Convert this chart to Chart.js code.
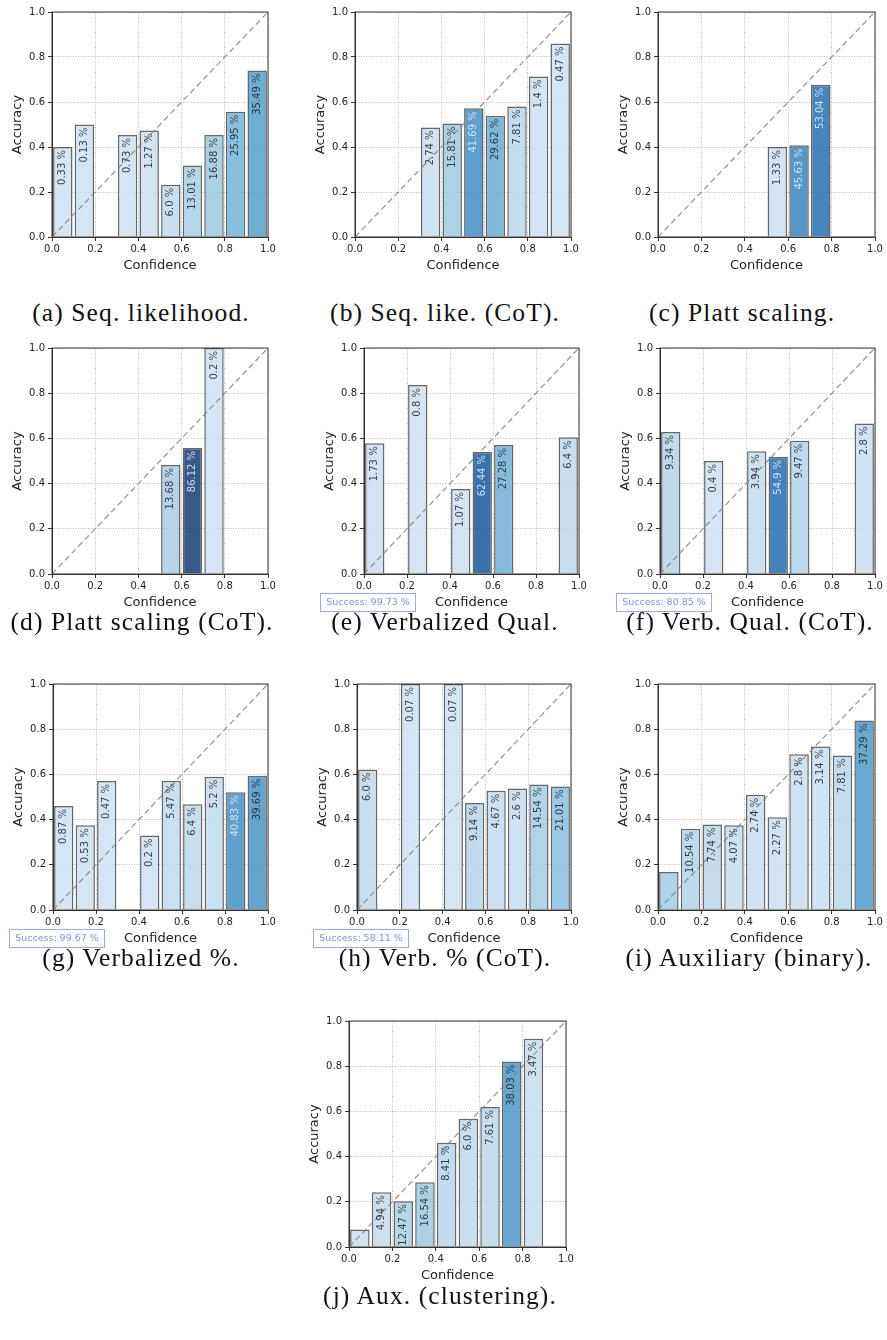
<!DOCTYPE html>
<html>
<head>
<meta charset="utf-8">
<script src="https://cdn.jsdelivr.net/npm/chart.js@4.4.1/dist/chart.umd.min.js"></script>
<style>
  html, body { margin: 0; padding: 0; background: #fff; width: 887px; height: 1340px; overflow: hidden; position: relative; }
  canvas { position: absolute; }
  .cap { position: absolute; font-family: 'Liberation Serif', serif; font-size: 25.5px; line-height: 28px;
         color: #111; white-space: nowrap; transform: translateX(-50%); letter-spacing: 1.1px; }
</style>
</head>
<body>
<script>
// bin centres shared by every panel (10 bins of width 0.1)
const binCenters = [0.05, 0.15, 0.25, 0.35, 0.45, 0.55, 0.65, 0.75, 0.85, 0.95];
const axisTicks = [0, 0.2, 0.4, 0.6, 0.8, 1.0];
const diagonal = [0, 1];

// accuracy per bin (null = empty bin) and share of samples per bin in %
const accSeqLik      = [0.40, 0.50, null, 0.453, 0.473, 0.232, 0.318, 0.453, 0.557, 0.740];
const pctSeqLik      = [0.33, 0.13, null, 0.73, 1.27, 6.0, 13.01, 16.88, 25.95, 35.49];
const accSeqLikCot   = [null, null, null, 0.487, 0.505, 0.572, 0.539, 0.580, 0.713, 0.860];
const pctSeqLikCot   = [null, null, null, 2.74, 15.81, 41.69, 29.62, 7.81, 1.4, 0.47];
const accPlatt       = [null, null, null, null, null, 0.400, 0.408, 0.677, null, null];
const pctPlatt       = [null, null, null, null, null, 1.33, 45.63, 53.04, null, null];
const accPlattCot    = [null, null, null, null, null, 0.482, 0.558, 1.0, null, null];
const pctPlattCot    = [null, null, null, null, null, 13.68, 86.12, 0.2, null, null];
const accVerbQual    = [0.578, null, 0.836, null, 0.376, 0.540, 0.571, null, null, 0.605];
const pctVerbQual    = [1.73, null, 0.8, null, 1.07, 62.44, 27.28, null, null, 6.4];
const accVerbQualCot = [0.628, null, 0.500, null, 0.543, 0.519, 0.590, null, null, 0.666];
const pctVerbQualCot = [9.34, null, 0.4, null, 3.94, 54.9, 9.47, null, null, 2.8];
const accVerbPct     = [0.460, 0.375, 0.571, null, 0.330, 0.572, 0.468, 0.590, 0.521, 0.594];
const pctVerbPct     = [0.87, 0.53, 0.47, null, 0.2, 5.47, 6.4, 5.2, 40.83, 39.69];
const accVerbPctCot  = [0.622, null, 1.0, null, 1.0, 0.473, 0.528, 0.538, 0.555, 0.546];
const pctVerbPctCot  = [6.0, null, 0.07, null, 0.07, 9.14, 4.67, 2.6, 14.54, 21.01];
const accAuxBinary   = [0.168, 0.360, 0.378, 0.375, 0.510, 0.410, 0.689, 0.723, 0.684, 0.838];
const pctAuxBinary   = [15.0, 10.54, 7.74, 4.07, 2.74, 2.27, 2.8, 3.14, 7.81, 37.29];
const accAuxCluster  = [0.077, 0.242, 0.202, 0.287, 0.461, 0.567, 0.620, 0.821, 0.922, null];
const pctAuxCluster  = [2.53, 4.94, 12.47, 16.54, 8.41, 6.0, 7.61, 38.03, 3.47, null];

const captions = ['(a) Seq. likelihood.', '(b) Seq. like. (CoT).', '(c) Platt scaling.',
  '(d) Platt scaling (CoT).', '(e) Verbalized Qual.', '(f) Verb. Qual. (CoT).',
  '(g) Verbalized %.', '(h) Verb. % (CoT).', '(i) Auxiliary (binary).', '(j) Aux. (clustering).'];
const successRates = [null, null, null, null, 99.73, 80.85, 99.67, 58.11, null, null];

// plot area of each panel in page pixels: left, top, right, bottom
const panels = [
  { acc: accSeqLik,      pct: pctSeqLik,      box: [52, 12, 268, 237] },
  { acc: accSeqLikCot,   pct: pctSeqLikCot,   box: [355, 12, 571, 237] },
  { acc: accPlatt,       pct: pctPlatt,       box: [658, 12, 875, 237] },
  { acc: accPlattCot,    pct: pctPlattCot,    box: [52, 348, 268, 574] },
  { acc: accVerbQual,    pct: pctVerbQual,    box: [364, 348, 579, 574] },
  { acc: accVerbQualCot, pct: pctVerbQualCot, box: [660, 348, 875, 574] },
  { acc: accVerbPct,     pct: pctVerbPct,     box: [53, 684, 268, 910] },
  { acc: accVerbPctCot,  pct: pctVerbPctCot,  box: [357, 684, 571, 910] },
  { acc: accAuxBinary,   pct: pctAuxBinary,   box: [658, 684, 875, 910] },
  { acc: accAuxCluster,  pct: pctAuxCluster,  box: [349, 1021, 566, 1247] }
];
const capPos = [[141, 313], [445, 313], [742, 313], [142, 622], [445, 622], [750, 622],
  [141, 958], [445, 958], [749, 958], [440, 1296]];

const ML = 60, MT = 12, MR = 10, MB = 46;

// matplotlib "Blues"
const bluesStops = [[247,251,255],[222,235,247],[198,219,239],[158,202,225],[107,174,214],
  [66,146,198],[33,113,181],[8,81,156],[8,48,107]];
function blues(t) {
  t = Math.max(0, Math.min(1, t)) * 8;
  const i = Math.min(7, Math.floor(t)), f = t - i;
  const a = bluesStops[i], b = bluesStops[i + 1];
  return a.map((v, k) => v + (b[k] - v) * f);
}
function barColor(p) {
  const c = blues(0.22 + 1.07 * p / 100);
  return `rgba(${c[0].toFixed(0)},${c[1].toFixed(0)},${c[2].toFixed(0)},0.8)`;
}
function fmtPct(p) {
  return (Number.isInteger(p) ? p.toFixed(1) : String(p)) + ' %';
}

Chart.defaults.font.family = "'DejaVu Sans', sans-serif";
Chart.defaults.color = '#222';

const framePlugin = {
  id: 'frame',
  afterDraw(chart) {
    const { ctx, chartArea: a } = chart;
    ctx.save();
    ctx.strokeStyle = '#333';
    ctx.lineWidth = 1;
    ctx.strokeRect(a.left, a.top, a.right - a.left, a.bottom - a.top);
    ctx.restore();
  }
};

const barLabels = {
  id: 'barLabels',
  afterDatasetsDraw(chart) {
    const ds = chart.data.datasets[1];
    const meta = chart.getDatasetMeta(1);
    const ctx = chart.ctx;
    meta.data.forEach((el, i) => {
      const txt = ds.texts[i];
      if (!txt) return;
      ctx.save();
      ctx.translate(el.x, el.y + 3);
      ctx.rotate(-Math.PI / 2);
      ctx.font = "10px 'DejaVu Sans'";
      ctx.textAlign = 'right';
      ctx.textBaseline = 'middle';
      ctx.fillStyle = ds.textColors[i];
      ctx.fillText(txt, 0, 0);
      ctx.restore();
    });
  }
};

const successBox = {
  id: 'successBox',
  afterDraw(chart, args, opts) {
    if (opts.rate == null) return;
    const { ctx, chartArea: a } = chart;
    const x = a.left - 44, y = a.bottom + 19, w = 95, h = 18;
    ctx.save();
    ctx.strokeStyle = '#9aabef';
    ctx.lineWidth = 1;
    ctx.strokeRect(x + 0.5, y + 0.5, w, h);
    ctx.fillStyle = '#7b93e6';
    ctx.font = "9.5px 'DejaVu Sans'";
    ctx.textAlign = 'center';
    ctx.textBaseline = 'middle';
    ctx.fillText('Success: ' + opts.rate + ' %', x + w / 2 + 0.5, y + h / 2 + 1);
    ctx.restore();
  }
};

function axis(title, horizontal) {
  return {
    type: 'linear', min: 0, max: 1, offset: false,
    afterBuildTicks: s => { s.ticks = axisTicks.map(v => ({ value: v })); },
    afterFit: s => { if (horizontal) s.height = MB; else s.width = ML; },
    ticks: { callback: v => v.toFixed(1), font: { size: 10 }, color: '#222',
             padding: horizontal ? 2 : 3, maxRotation: 0, autoSkip: false },
    grid: { color: '#b4b4b4', lineWidth: 0.9, tickLength: 4, tickColor: '#333',
            tickWidth: 1, tickBorderDash: [], offset: false },
    border: { display: true, color: '#333', width: 1, dash: [1, 1.5] },
    title: { display: true, text: title, font: { size: 13 }, color: '#222',
             padding: horizontal ? { top: 0, bottom: 10 } : { top: 18, bottom: 0 } }
  };
}

panels.forEach((p, k) => {
  const [l, t, r, b] = p.box;
  const cv = document.createElement('canvas');
  const w = r - l + ML + MR, h = b - t + MT + MB;
  cv.width = w; cv.height = h;
  cv.style.left = (l - ML) + 'px';
  cv.style.top = (t - MT) + 'px';
  cv.style.width = w + 'px';
  cv.style.height = h + 'px';
  document.body.appendChild(cv);

  const pts = [], cols = [], texts = [], textCols = [];
  binCenters.forEach((x, i) => {
    if (p.acc[i] == null) return;
    pts.push({ x: x, y: p.acc[i] });
    cols.push(barColor(p.pct[i]));
    texts.push(p.acc[i] >= 0.18 ? fmtPct(p.pct[i]) : '');
    textCols.push(p.pct[i] > 40 ? 'rgba(215,230,245,0.95)' : 'rgba(30,30,30,0.85)');
  });

  new Chart(cv.getContext('2d'), {
    type: 'bar',
    data: {
      datasets: [
        { type: 'line', data: diagonal.map(v => ({ x: v, y: v })), borderColor: 'rgba(128,128,128,0.85)',
          borderWidth: 1.2, borderDash: [6, 3.5], pointRadius: 0, order: 0, fill: false },
        { type: 'bar', data: pts, backgroundColor: cols, borderColor: 'rgba(45,45,45,0.72)',
          borderWidth: 1.5, barPercentage: 0.9, categoryPercentage: 1.0, order: 1,
          texts: texts, textColors: textCols }
      ]
    },
    options: {
      responsive: false, animation: false, devicePixelRatio: 1,
      layout: { padding: { top: MT, right: MR, left: 0, bottom: 0 } },
      plugins: { legend: { display: false }, tooltip: { enabled: false },
                 successBox: { rate: successRates[k] } },
      scales: { x: axis('Confidence', true), y: axis('Accuracy', false) }
    },
    plugins: [framePlugin, barLabels, successBox]
  });

  const cap = document.createElement('div');
  cap.className = 'cap';
  cap.textContent = captions[k];
  cap.style.left = capPos[k][0] + 'px';
  cap.style.top = (capPos[k][1] - 14) + 'px';
  document.body.appendChild(cap);
});
</script>
</body>
</html>
